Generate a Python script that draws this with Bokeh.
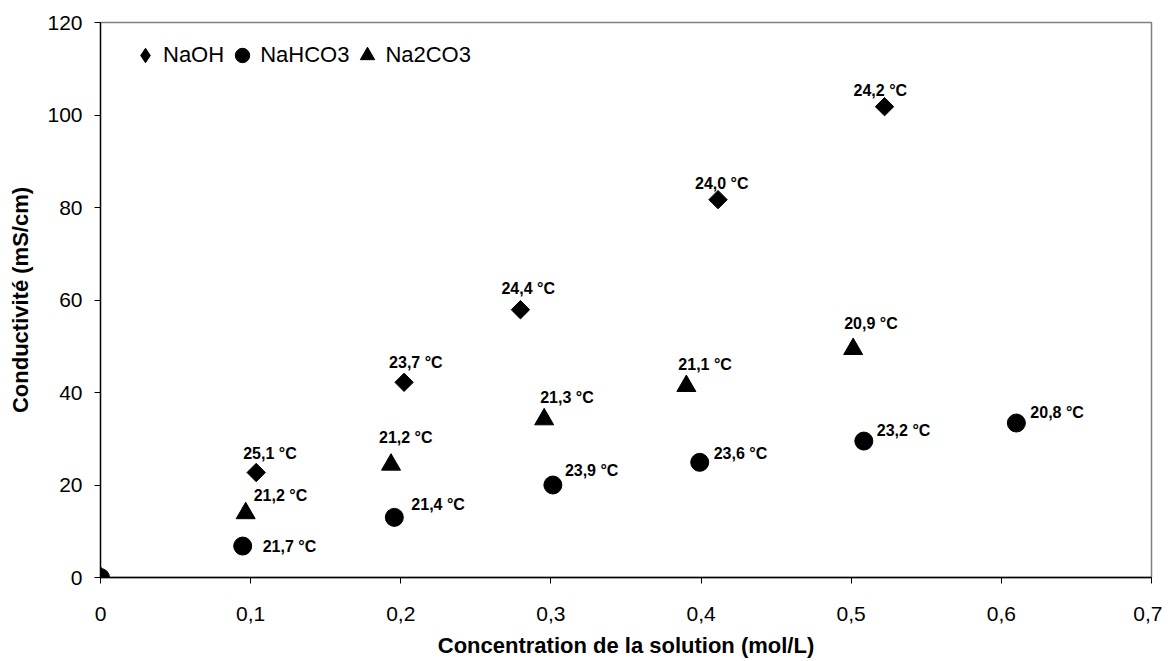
import numpy as np
from bokeh.plotting import figure
from bokeh.models import Range1d, FixedTicker, ColumnDataSource, Legend, LegendItem
from bokeh.core.properties import value
from bokeh.embed import file_html
from bokeh.resources import INLINE

# ---- data ----
naoh_x = [0.0, 0.1037, 0.2022, 0.2797, 0.4113, 0.5222]
naoh_y = [0.0, 22.7, 42.2, 57.9, 81.7, 101.8]
naoh_t = ["", "25,1 °C", "23,7 °C", "24,4 °C", "24,0 °C", "24,2 °C"]

nahco3_x = [0.0, 0.0947, 0.1957, 0.3013, 0.3991, 0.5084, 0.6100]
nahco3_y = [0.0, 6.8, 13.0, 20.0, 24.9, 29.5, 33.4]
nahco3_t = ["", "21,7 °C", "21,4 °C", "23,9 °C", "23,6 °C", "23,2 °C", "20,8 °C"]

na2co3_x = [0.0, 0.0967, 0.1935, 0.2955, 0.3902, 0.5013]
na2co3_y = [0.0, 13.9, 24.4, 34.2, 41.4, 49.4]
na2co3_t = ["", "21,2 °C", "21,2 °C", "21,3 °C", "21,1 °C", "20,9 °C"]

series_names = ["NaOH", "NaHCO3", "Na2CO3"]

x_ticks = [0.0, 0.1, 0.2, 0.3, 0.4, 0.5, 0.6, 0.7]
x_tick_labels = ["0", "0,1", "0,2", "0,3", "0,4", "0,5", "0,6", "0,7"]
y_ticks = [0, 20, 40, 60, 80, 100, 120]
y_tick_labels = ["0", "20", "40", "60", "80", "100", "120"]

# label offsets in screen pixels (layout only)
naoh_dx = [0, -13, -15, -19, -23, -31]
naoh_dy = [0, -19, -20, -21, -16, -16]
nahco3_dx = [0, 20, 17, 12, 14, 13, 14]
nahco3_dy = [0, 0, -13, -15, -9, -11, -11]
na2co3_dx = [0, 8, -12, -4, -8, -9]
na2co3_dy = [0, -18, -27, -22, -22, -26]

FONT = "Liberation Sans"

p = figure(width=1162, height=661, output_backend="svg", toolbar_location=None,
           x_range=Range1d(0, 0.7), y_range=Range1d(0, 120),
           min_border_left=100, min_border_top=22, min_border_right=11, min_border_bottom=84)
p.xgrid.visible = False
p.ygrid.visible = False
p.outline_line_color = "#808080"
p.outline_line_width = 1.5
p.background_fill_color = "white"
p.border_fill_color = "white"

for ax, ticks, labels in ((p.xaxis[0], x_ticks, x_tick_labels), (p.yaxis[0], y_ticks, y_tick_labels)):
    ax.ticker = FixedTicker(ticks=ticks)
    ax.major_label_overrides = {t: l for t, l in zip(ticks, labels)}
    ax.minor_tick_line_color = None
    ax.major_tick_out = 6
    ax.major_tick_in = 0
    ax.axis_line_color = "black"
    ax.axis_line_width = 1.3
    ax.major_tick_line_color = "black"
    ax.major_label_text_font = FONT
    ax.major_label_text_font_size = "21px"
    ax.major_label_text_color = "black"
    ax.axis_label_text_font = FONT
    ax.axis_label_text_font_size = "22px"
    ax.axis_label_text_font_style = "bold"
    ax.axis_label_text_color = "black"

p.xaxis.axis_label = "Concentration de la solution (mol/L)"
p.yaxis.axis_label = "Conductivité (mS/cm)"
p.xaxis.major_label_standoff = 23
p.xaxis.axis_label_standoff = 9
p.yaxis.major_label_standoff = 12
p.yaxis.axis_label_standoff = 11

src_a = ColumnDataSource(dict(x=naoh_x, y=naoh_y, t=naoh_t, dx=naoh_dx, dy=naoh_dy))
src_b = ColumnDataSource(dict(x=nahco3_x, y=nahco3_y, t=nahco3_t, dx=nahco3_dx, dy=nahco3_dy))
src_c = ColumnDataSource(dict(x=na2co3_x, y=na2co3_y, t=na2co3_t, dx=na2co3_dx, dy=na2co3_dy))

r_a = p.scatter("x", "y", source=src_a, marker="square", angle=np.pi / 4, size=13,
                fill_color="black", line_color="black")
r_c = p.scatter("x", "y", source=src_c, marker="triangle", size=19,
                fill_color="black", line_color="black")
r_b = p.scatter("x", "y", source=src_b, marker="circle", size=18,
                fill_color="black", line_color="black")

# hidden twin of the NaOH series, used only so the legend shows a diamond
r_a_leg = p.scatter("x", "y", source=src_a, marker="diamond", size=13,
                    fill_color="black", line_color="black", visible=False)

for src in (src_a, src_b, src_c):
    p.text("x", "y", text="t", source=src, x_offset="dx", y_offset="dy",
           text_font=value(FONT), text_font_size="16px", text_font_style="bold",
           text_color="black", text_align="left", text_baseline="middle")

legend = Legend(items=[LegendItem(label=series_names[0], renderers=[r_a_leg]),
                       LegendItem(label=series_names[1], renderers=[r_b]),
                       LegendItem(label=series_names[2], renderers=[r_c])],
                orientation="horizontal", location=(27, 502))
legend.border_line_color = None
legend.background_fill_alpha = 0
legend.inactive_fill_alpha = 0
legend.label_text_font = FONT
legend.label_text_font_size = "22px"
legend.label_text_color = "black"
legend.glyph_width = 36
legend.glyph_height = 40
legend.label_standoff = 0
legend.spacing = 0
legend.padding = 0
legend.margin = 0
p.add_layout(legend)

open("out.html", "w").write(file_html(p, INLINE))
